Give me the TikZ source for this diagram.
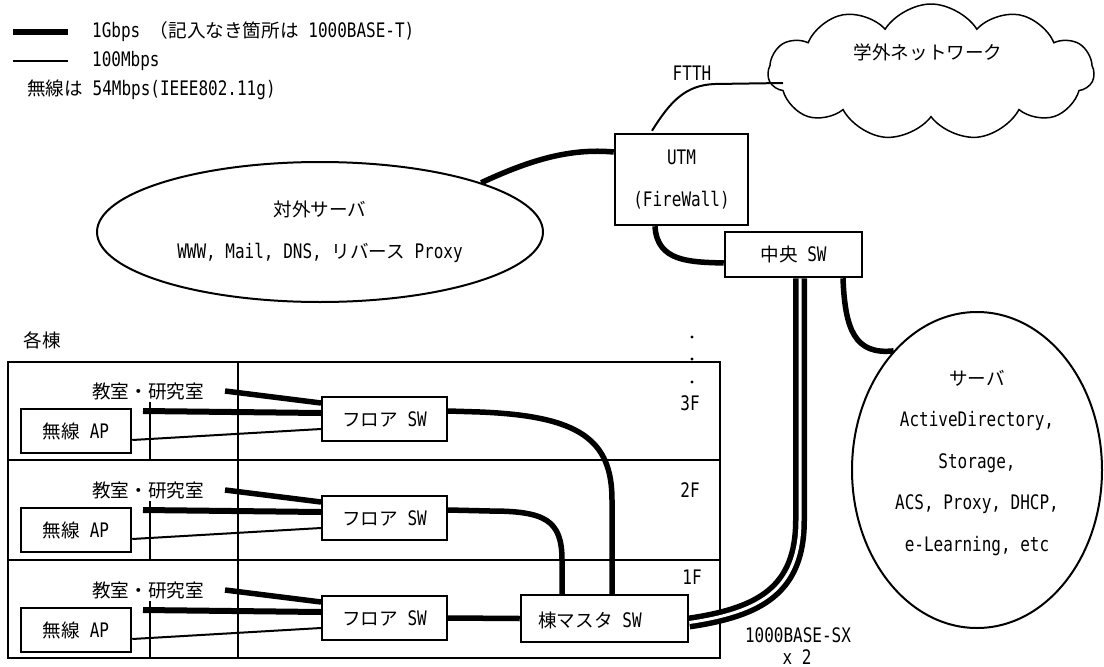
\documentclass[tikz,border=0pt]{standalone}
\usepackage{fontspec}
\setmainfont[FakeStretch=0.8]{DejaVu Sans Mono}
\newfontfamily\jpf[Scale=0.93]{Noto Sans CJK JP}
\newcommand{\J}[1]{{\jpf #1}}
\usetikzlibrary{shapes.geometric,shapes.symbols}
\begin{document}
\begin{tikzpicture}[x=1pt,y=-1pt,
  every node/.style={font=\fontsize{20}{24}\selectfont, inner sep=0pt},
  box/.style={draw, line width=2.5pt, rectangle, fill=white, inner sep=0pt},
  thickln/.style={line width=5.5pt},
  thinln/.style={line width=2pt},
  wall/.style={line width=1.2pt},
  fiber/.style={line width=5.5pt, double=white, double distance=3pt},
  twoline/.style={align=center, font=\fontsize{20}{42}\selectfont}
]
\useasboundingbox (0,0) rectangle (1104,667);

% legend
\coordinate (lg1a) at (13,32); \coordinate (lg1b) at (68,32);
\coordinate (lg2a) at (13,61); \coordinate (lg2b) at (68,61);
\draw[line width=6pt] (lg1a) -- (lg1b);
\draw[line width=2.5pt] (lg2a) -- (lg2b);
\node[anchor=west] (lgt1) at (92,32) {1Gbps \J{（記入なき箇所は} 1000BASE-T)};
\node[anchor=west] (lgt2) at (92,61) {100Mbps};
\node[anchor=west] (lgt3) at (27,90) {\J{無線は} 54Mbps(IEEE802.11g)};

% cloud
\node[cloud, draw, line width=1.5pt, cloud puffs=11, cloud puff arc=115, aspect=2.4,
      minimum width=326pt, minimum height=136pt] (cloud) at (931,72) {};
\node (cloudt) at (928,52) {\J{学外ネットワーク}};
\node (ftth) at (692,73) {FTTH};

% UTM and central switch
\node[box, twoline, minimum width=133pt, minimum height=91pt] (utm) at (681.5,179.5) {UTM\\(FireWall)};
\node[box, minimum width=137pt, minimum height=45pt] (csw) at (793.5,254.5) {\J{中央} SW};

% external servers
\node[ellipse, draw, line width=2pt, twoline, minimum width=446pt, minimum height=140pt] (ext) at (320,232)
  {\J{対外サーバ}\\WWW, Mail, DNS, \J{リバース} Proxy};

% servers
\node[ellipse, draw, line width=2pt, minimum width=250pt, minimum height=316pt] (srv) at (977,470) {};
\node[align=center, font=\fontsize{20}{41.5}\selectfont] (srvt) at (977,463)
  {\J{サーバ}\\ActiveDirectory,\\Storage,\\ACS, Proxy, DHCP,\\e-Learning, etc};

% connectors top
\coordinate (ftthe) at (783,83);
\draw[thinln] ([xshift=-29.5pt,yshift=2pt]utm.north) .. controls (670,102) and (685,85) .. (715,84) -- (ftthe);
\draw[thickln] ([yshift=27.5pt]utm.west) .. controls (570,148) and (530,160) .. (ext.17.6);
\draw[thickln] ([xshift=-26.5pt]utm.south) .. controls (657,262) and (690,262) .. ([yshift=-8.5pt]csw.west);
\draw[thickln] ([xshift=49.5pt]csw.south) .. controls (845,330) and (855,355) .. (srv.125);

% building
\node (bldg) at (42,340) {\J{各棟}};
\draw[wall] (8,362) rectangle (720,658);
\draw[wall] (8,460) -- (720,460);
\draw[wall] (8,560) -- (720,560);
\draw[wall] (238,362) -- (238,658);
\fill (692,337) circle (1.7);
\fill (692,359) circle (1.7);
\fill (692,382) circle (1.7);
\node (f3) at (690,403) {3F};
\node (f2) at (690,490) {2F};
\node (f1) at (692,577) {1F};

\foreach \d/\n in {0/3,99/2,199/1}{
  \draw[wall] (150,402+\d) -- (150,460+\d);
  \node (room\n) at (148,391+\d) {\J{教室・研究室}};
  \node[box, minimum width=110pt, minimum height=44pt] (ap\n) at (76,431+\d) {\J{無線} AP};
  \node[box, line width=2pt, minimum width=125pt, minimum height=44pt] (sw\n) at (384.5,419+\d) {\J{フロア} SW};
  \coordinate (ra\n) at (225,391+\d);
  \coordinate (rb\n) at (143,411+\d);
  \draw[thickln] (ra\n) -- ([yshift=16pt]sw\n.west);
  \draw[line width=6pt] (rb\n) -- ([yshift=6pt]sw\n.west);
  \draw[thinln] ([yshift=-9pt]ap\n.east) -- ([yshift=-10pt]sw\n.west);
}

% building master switch
\node[box, minimum width=167pt, minimum height=47pt] (msw) at (604.5,618.5) {};
\node (mswt) at (590,620) {\J{棟マスタ} SW};

\draw[thickln] ([yshift=8pt]sw3.east) -- (480,412) .. controls (580,416) and (612,440) .. (612,500) -- ([xshift=7.5pt]msw.north);
\draw[thickln] ([yshift=8pt]sw2.east) -- (490,511) .. controls (545,511) and (562,520) .. (562,560) -- ([xshift=-42.5pt]msw.north);
\draw[thickln] (sw1.east) -- (msw.west);

% fiber uplink
\draw[fiber] ([yshift=-4pt]msw.east) .. controls (760,612) and (800,590) .. (800,520) -- ([xshift=6.5pt]csw.south);
\node (sx1) at (798,635) {1000BASE-SX};
\node (sx2) at (797,657) {x 2};
\end{tikzpicture}
\end{document}
